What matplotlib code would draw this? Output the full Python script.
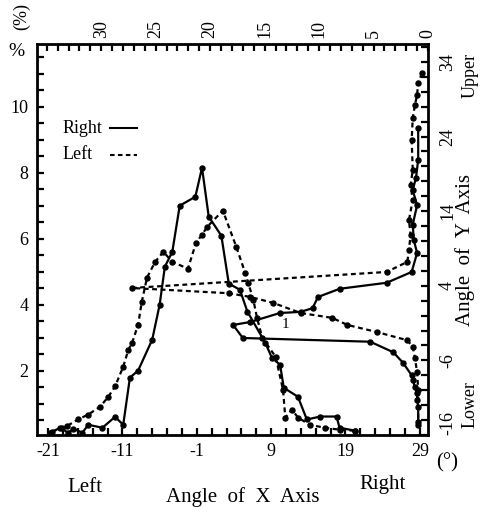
import matplotlib
matplotlib.use("Agg")
import matplotlib.pyplot as plt
from matplotlib.ticker import FixedLocator, FixedFormatter

plt.rcParams['font.family'] = ['Liberation Serif', 'DejaVu Serif']

# ---- X-axis angle distribution (bottom axis angle, left axis %) ----
rx_x = [-20.7, -19.4, -18.3, -17.6, -16.4, -15.6, -13.7, -12.0, -10.9, -10.0, -8.9, -7.0, -6.0,
        -5.3, -4.3, -3.3, -1.2, -0.3, 0.6, 2.3, 3.3, 4.8, 5.8, 8.2, 9.1, 10.2, 10.7, 12.6, 13.8,
        15.6, 17.8, 18.2, 20.3]
rx_y = [0.12, 0.27, 0.12, 0.24, 0.12, 0.36, 0.27, 0.6, 0.36, 1.79, 2.0, 2.94, 4.0,
        5.15, 5.6, 7.0, 7.27, 8.15, 6.67, 6.09, 4.64, 4.45, 3.79, 2.85, 2.39, 2.18, 1.48, 1.21, 0.52,
        0.61, 0.61, 0.27, 0.18]
lx_x = [-20.5, -19.1, -18.4, -17.0, -15.6, -14.0, -12.9, -12.0, -10.9, -10.2, -9.7, -8.9, -8.4,
        -7.7, -6.6, -5.5, -4.3, -2.2, -1.1, -0.3, 0.4, 2.5, 4.3, 5.5, 5.9, 6.6, 7.1, 7.8, 9.6,
        10.6, 10.9, 11.8, 12.6, 14.2, 16.2, 18.2, 20.3]
lx_y = [0.15, 0.27, 0.33, 0.52, 0.67, 0.91, 1.21, 1.52, 2.12, 2.64, 2.85, 3.39, 4.09,
        4.82, 5.3, 5.6, 5.3, 5.09, 5.88, 6.12, 6.36, 6.85, 5.76, 4.97, 4.67, 4.15, 3.6, 3.0, 2.42,
        1.42, 0.58, 0.82, 0.58, 0.36, 0.27, 0.21, 0.18]

# ---- Y-axis angle distribution (top axis %, right axis angle) ----
ry_p = [0.9, 0.9, 1.1, 1.4, 1.0, 1.4, 1.3, 1.0, 1.5, 3.8, 8.1, 10.1, 10.6, 11.7, 13.6, 16.3,
        17.9, 17.0, 5.3, 3.2, 2.3, 1.5, 1.4, 1.2, 1.0, 1.0, 0.9, 0.9]
ry_a = [25.2, 20.9, 18.5, 16.8, 14.8, 12.2, 10.1, 8.4, 5.85, 4.4, 3.6, 2.5, 1.0, 0.5, 0.35, -0.85,
        -1.25, -3.0, -3.5, -4.9, -6.3, -8.0, -8.6, -9.6, -10.4, -11.3, -12.2, -14.3]
ly_p = [0.55, 0.9, 1.0, 1.2, 1.4, 1.5, 1.4, 1.6, 1.4, 1.75, 1.6, 1.75, 1.9, 3.8, 27.2, 18.3,
        16.3, 14.2, 11.7, 8.8, 7.4, 4.7, 1.9, 1.4, 1.2, 1.0, 0.9, 0.9]
ly_a = [32.5, 31.2, 29.6, 28.2, 26.5, 23.5, 19.5, 17.5, 15.5, 12.8, 10.8, 8.8, 7.2, 5.85, 3.7, 3.0,
        2.5, 1.7, 0.35, -0.3, -1.25, -2.2, -3.3, -4.2, -5.7, -7.6, -10.0, -14.7]

bottom_labels = ['-21', '-11', '-1', '9', '19', '29']
top_labels = ['30', '25', '20', '15', '10', '5', '0']
left_labels = ['2', '4', '6', '8', '10']
right_labels = ['34', '24', '14', '4', '-6', '-16']

fig = plt.figure(figsize=(4.82, 5.15), dpi=100)
pos = [37/482, 1-435/515, (428-37)/482, (435-44)/515]
ax = fig.add_axes(pos)
ax2 = fig.add_axes(pos, frameon=False)

dot = (0, (2.2, 1.6))
kw = dict(color='black', marker='o', markersize=3.6, linewidth=1.6)

ax.plot(rx_x, rx_y, linestyle='-', **kw)
ax.plot(lx_x, lx_y, linestyle=dot, **kw)
ax2.plot(ry_p, ry_a, linestyle='-', **kw)
ax2.plot(ly_p, ly_a, linestyle=dot, **kw)

ax.set_xlim(-22.5, 30.1)
ax.set_ylim(0.05, 11.9)
ax2.set_xlim(35.9, 0)
ax2.set_ylim(-16, 36.4)

# bottom ticks
bt = list(range(-21, 30, 2))
ax.xaxis.set_major_locator(FixedLocator(bt))
ax.xaxis.set_major_formatter(FixedFormatter([str(t) if str(t) in bottom_labels else '' for t in bt]))
# left ticks
lt = [i*0.5 for i in range(1, 24)]
ax.yaxis.set_major_locator(FixedLocator(lt))
ax.yaxis.set_major_formatter(FixedFormatter([str(int(t)) if (t == int(t) and str(int(t)) in left_labels) else '' for t in lt]))
# top ticks
tt = list(range(0, 36))
ax2.xaxis.tick_top()
ax2.xaxis.set_major_locator(FixedLocator(tt))
ax2.xaxis.set_major_formatter(FixedFormatter([str(t) if str(t) in top_labels else '' for t in tt]))
# right ticks
rt = list(range(-16, 37, 2))
ax2.yaxis.tick_right()
ax2.yaxis.set_major_locator(FixedLocator(rt))
ax2.yaxis.set_major_formatter(FixedFormatter([str(t) if str(t) in right_labels else '' for t in rt]))

for a in (ax, ax2):
    a.tick_params(direction='in', length=5, width=1.6, labelsize=13, pad=6)
for s in ax.spines.values():
    s.set_linewidth(2.0)
ax2.tick_params(axis='x', labelrotation=90, pad=4)
ax2.tick_params(axis='y', labelrotation=90, pad=8)
fig.canvas.draw()
for lab in ax2.get_yticklabels():
    if lab.get_text() == '-16':
        lab.set_va('bottom')
    else:
        lab.set_va('center')

# legend (drawn as text + lines)
ax.text(-19.1, 9.35, 'Right', fontsize=13, va='center', ha='left')
ax.text(-19.1, 8.55, 'Left', fontsize=13, va='center', ha='left')
ax.plot([-12.7, -9.1], [9.35, 9.35], color='black', linewidth=1.5)
ax.plot([-12.7, -9.1], [8.55, 8.55], color='black', linewidth=1.5, linestyle=dot)

ax.text(10.9, 3.39, '1', fontsize=11, ha='center', va='center')

# outer labels
fig.text(243/482, 1-497/515, 'Angle  of  X  Axis', fontsize=15, ha='center', va='center')
fig.text(85/482, 1-488/515, 'Left', fontsize=15, ha='center', va='center')
fig.text(383/482, 1-484/515, 'Right', fontsize=15, ha='center', va='center')
fig.text(447/482, 1-463/515, '(°)', fontsize=15, ha='center', va='center')
fig.text(465/482, 1-250/515, 'Angle  of  Y  Axis', fontsize=15, ha='center', va='center', rotation=90)
fig.text(470/482, 1-75/515, 'Upper', fontsize=13, ha='center', va='center', rotation=90)
fig.text(470/482, 1-405/515, 'Lower', fontsize=13, ha='center', va='center', rotation=90)
fig.text(16/482, 1-52/515, '%', fontsize=14, ha='center', va='center')
fig.text(22/482, 1-16/515, '(%)', fontsize=13, ha='center', va='center', rotation=90)

fig.savefig('out.png', dpi=100)
